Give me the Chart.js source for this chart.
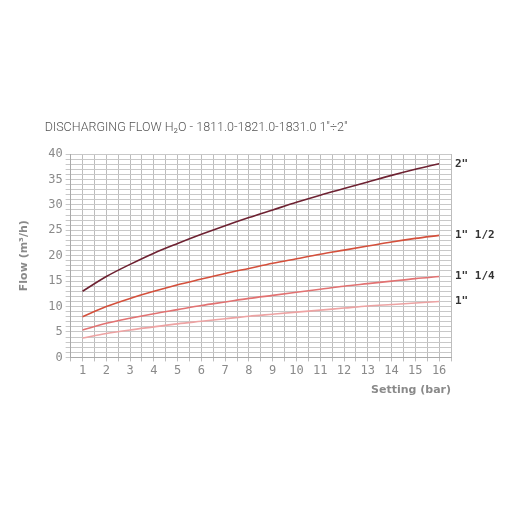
<!DOCTYPE html>
<html>
<head>
<meta charset="utf-8">
<script src="https://cdn.jsdelivr.net/npm/chart.js@4.4.0/dist/chart.umd.min.js"></script>
<style>
  html, body { margin: 0; padding: 0; background: #fff; }
  #wrap { width: 512px; height: 512px; }
</style>
</head>
<body>
<div id="wrap"><canvas id="flowChart" width="512" height="512"></canvas></div>
<script>
// --- datos ---
const settings = [1, 2, 3, 4, 5, 6, 7, 8, 9, 10, 11, 12, 13, 14, 15, 16];
const flow2 = [13.0, 15.9, 18.3, 20.5, 22.4, 24.2, 25.9, 27.5, 29.0, 30.5, 31.9, 33.2, 34.5, 35.8, 37.0, 38.1];
const flow1_12 = [8.0, 10.0, 11.6, 13.0, 14.3, 15.4, 16.5, 17.5, 18.5, 19.4, 20.3, 21.1, 21.9, 22.7, 23.4, 24.0];
const flow1_14 = [5.4, 6.7, 7.7, 8.6, 9.4, 10.2, 10.9, 11.6, 12.2, 12.8, 13.4, 14.0, 14.5, 15.0, 15.5, 15.9];
const flow1 = [3.8, 4.7, 5.4, 6.0, 6.6, 7.1, 7.6, 8.1, 8.5, 8.9, 9.3, 9.7, 10.1, 10.4, 10.7, 11.0];
const seriesNames = ['2"', '1" 1/2', '1" 1/4', '1"'];
const seriesColors = ['#6e2232', '#d4503c', '#e27272', '#eda3a3'];
const chartTitle = 'DISCHARGING FLOW H\u2082O - 1811.0-1821.0-1831.0 1"\u00f72"';

function toPoints(values) {
    return values.map((v, i) => ({ x: settings[i], y: v }));
}

// título y etiquetas a la derecha de cada curva
const extraText = {
    id: 'extraText',
    afterDatasetsDraw(chart) {
        const ctx = chart.ctx;
        const area = chart.chartArea;
        ctx.save();
        ctx.font = '300 12.5px Roboto';
        ctx.fillStyle = '#555';
        ctx.textBaseline = 'alphabetic';
        ctx.fillText(chartTitle, area.left - 26, area.top - 23);

        ctx.font = 'bold 11px "DejaVu Sans Mono"';
        ctx.fillStyle = '#333';
        ctx.textBaseline = 'middle';
        chart.data.datasets.forEach((ds, i) => {
            const meta = chart.getDatasetMeta(i);
            const last = meta.data[meta.data.length - 1];
            ctx.fillText(ds.label, area.right + 4, last.y);
        });
        ctx.restore();
    }
};

const tickFont = { family: '"DejaVu Sans Mono"', size: 12 };

new Chart(document.getElementById('flowChart'), {
    type: 'line',
    data: {
        datasets: [flow2, flow1_12, flow1_14, flow1].map((vals, i) => ({
            label: seriesNames[i],
            data: toPoints(vals),
            borderColor: seriesColors[i],
            borderWidth: 1.6,
            pointRadius: 0,
            tension: 0.4,
            cubicInterpolationMode: 'monotone',
            fill: false
        }))
    },
    options: {
        responsive: false,
        animation: false,
        layout: { padding: { left: 14, right: 61, top: 154, bottom: 111 } },
        plugins: {
            legend: { display: false },
            tooltip: { enabled: false }
        },
        scales: {
            x: {
                type: 'linear',
                min: 0.5,
                max: 16.5,
                grid: { color: '#bdbdbd', lineWidth: 1, tickLength: 4 },
                border: { color: '#aaa' },
                ticks: {
                    stepSize: 0.5,
                    autoSkip: false,
                    maxRotation: 0,
                    color: '#8a8a8a',
                    font: tickFont,
                    padding: 2,
                    callback: v => Number.isInteger(v) ? v : ''
                },
                title: {
                    display: true,
                    text: 'Setting (bar)',
                    align: 'end',
                    color: '#8a8a8a',
                    font: { family: '"DejaVu Sans"', size: 11, weight: 'bold' },
                    padding: { top: 4 }
                }
            },
            y: {
                min: 0,
                max: 40,
                grid: { color: '#c8c8c8', lineWidth: 1, tickLength: 5 },
                border: { color: '#aaa' },
                ticks: {
                    stepSize: 1,
                    autoSkip: false,
                    color: '#8a8a8a',
                    font: tickFont,
                    padding: 3,
                    callback: v => v % 5 === 0 ? v : ''
                },
                title: {
                    display: true,
                    text: 'Flow (m\u00b3/h)',
                    color: '#8a8a8a',
                    font: { family: '"DejaVu Sans"', size: 11, weight: 'bold' },
                    padding: { bottom: 14 }
                }
            }
        }
    },
    plugins: [extraText]
});
</script>
</body>
</html>
